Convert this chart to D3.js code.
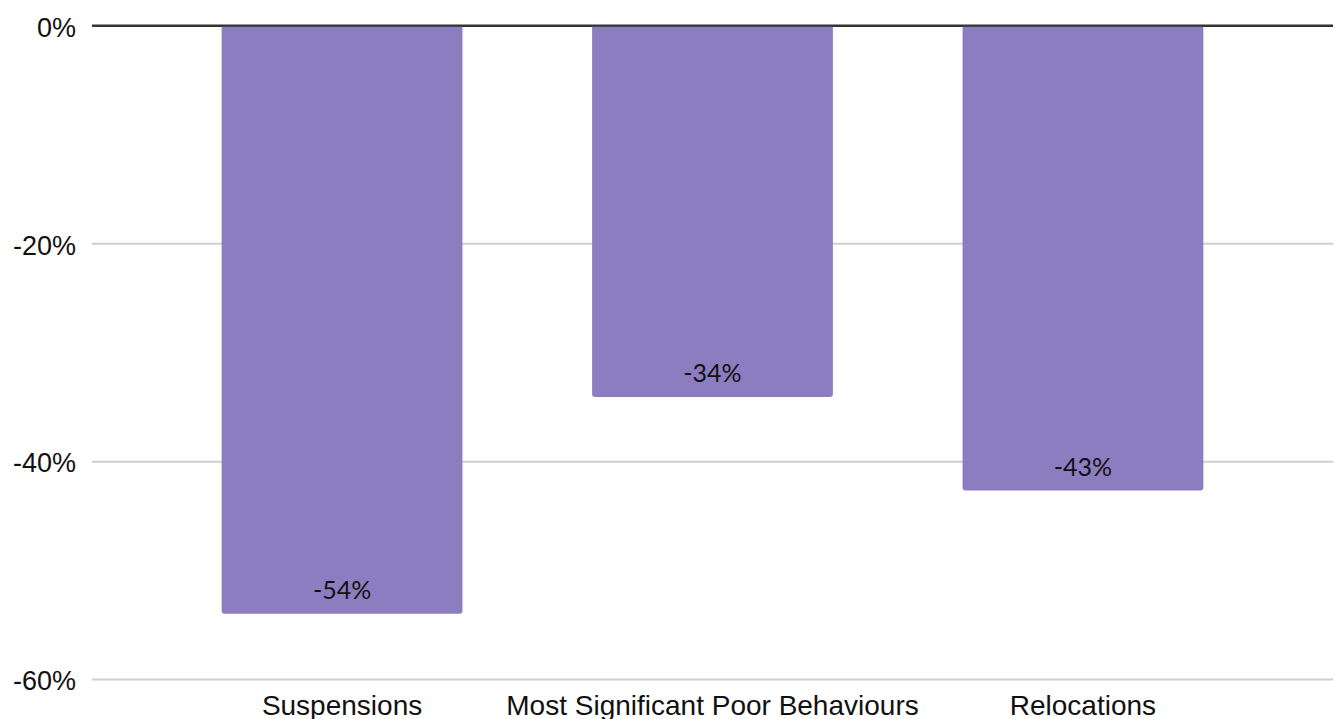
<!DOCTYPE html>
<meta charset="utf-8">
<style>
    body { margin: 0; background: #fff; }
    .tick text, .cat {
        font-family: "Liberation Sans", Arial, Helvetica, sans-serif;
        fill: #111;
    }
    .val {
        font-family: Lato, "Liberation Sans", Arial, sans-serif;
        fill: #111;
    }
</style>
<svg width="1335" height="719"></svg>
<script src="https://d3js.org/d3.v7.min.js"></script>
<script>

    var categories = ["Suspensions", "Most Significant Poor Behaviours", "Relocations"];
    var changes = [-54.0, -34.1, -42.7];
    var yTicks = [0, -20, -40, -60];

    var svg = d3.select("svg"),
        plotLeft = 92,
        plotRight = 1333,
        plotTop = 25.5,
        plotBottom = 679;

    var x = d3.scaleBand()
        .domain(categories)
        .range([plotLeft, plotRight])
        .paddingInner(0.35)
        .paddingOuter(0.35);

    var y = d3.scaleLinear()
        .domain([0, -60])
        .range([plotTop, plotBottom]);

    // gridlines + tick labels
    var yAxis = svg.append("g")
        .attr("transform", "translate(" + plotLeft + ",0)")
        .call(d3.axisLeft(y)
            .tickValues(yTicks)
            .tickSize(-(plotRight - plotLeft))
            .tickPadding(16)
            .tickFormat(function (d) { return d + "%"; }));

    yAxis.select(".domain").remove();
    yAxis.selectAll(".tick line")
        .attr("stroke", function (d) { return d === 0 ? "#333" : "#cfcfcf"; })
        .attr("stroke-width", 2);
    yAxis.selectAll(".tick text")
        .attr("dy", "0.4em")
        .style("font-size", "27px");

    var data = categories.map(function (c, i) { return {cat: c, v: changes[i]}; });

    // bars: square top at 0, slightly rounded bottom corners
    var r = 3;
    svg.append("g").selectAll("path")
        .data(data)
        .enter().append("path")
        .attr("fill", "#8c7dc1")
        .attr("d", function (d) {
            var x0 = x(d.cat), x1 = x0 + x.bandwidth(),
                y0 = y(0) + 1, y1 = y(d.v);
            return "M" + x0 + "," + y0 + "H" + x1 + "V" + (y1 - r) +
                "Q" + x1 + "," + y1 + " " + (x1 - r) + "," + y1 +
                "H" + (x0 + r) + "Q" + x0 + "," + y1 + " " + x0 + "," + (y1 - r) + "Z";
        });

    // redraw zero line above bars
    svg.append("line")
        .attr("x1", plotLeft).attr("x2", plotRight)
        .attr("y1", y(0)).attr("y2", y(0))
        .attr("stroke", "#333")
        .attr("stroke-width", 2);

    svg.append("g").selectAll("text")
        .data(data)
        .enter().append("text")
        .attr("class", "val")
        .attr("x", function (d) { return x(d.cat) + x.bandwidth() / 2; })
        .attr("y", function (d) { return y(d.v) - 15; })
        .attr("text-anchor", "middle")
        .style("font-size", "25px")
        .text(function (d) { return Math.round(d.v) + "%"; });

    svg.append("g").selectAll("text")
        .data(categories)
        .enter().append("text")
        .attr("class", "cat")
        .attr("x", function (d) { return x(d) + x.bandwidth() / 2; })
        .attr("y", 715)
        .attr("text-anchor", "middle")
        .style("font-size", "28px")
        .text(function (d) { return d; });
</script>
